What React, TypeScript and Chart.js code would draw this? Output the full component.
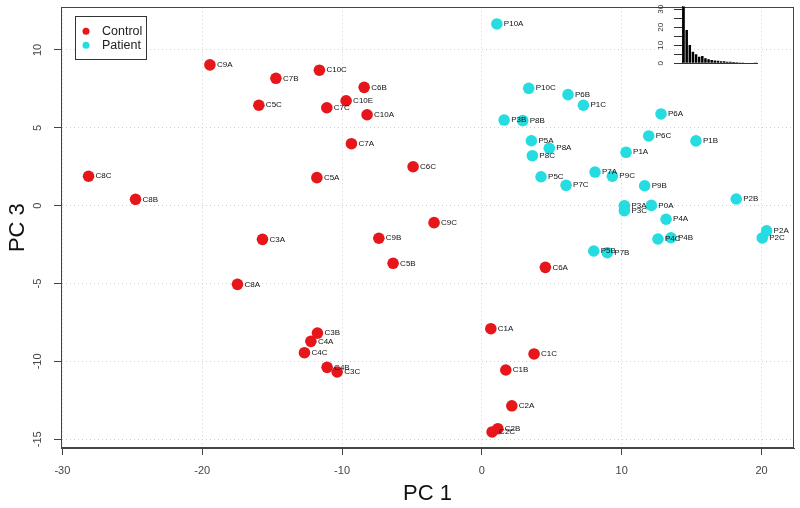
import React, { useEffect, useRef } from 'react';
import { Chart, registerables } from 'chart.js';

Chart.register(...registerables);

// ---------- data ----------
const controlNames = ['C9A', 'C7B', 'C5C', 'C8C', 'C8B', 'C10C', 'C6B', 'C10E', 'C7C', 'C10A', 'C7A', 'C6C', 'C5A', 'C9C', 'C3A', 'C8A', 'C9B', 'C5B', 'C6A', 'C3B', 'C4A', 'C4C', 'C4B', 'C3C', 'C1A', 'C1C', 'C1B', 'C2A', 'C2B', 'C2C'];
const controlPC1 = [-19.45, -14.73, -15.95, -28.13, -24.77, -11.62, -8.42, -9.71, -11.09, -8.21, -9.33, -4.92, -11.8, -3.42, -15.69, -17.48, -7.37, -6.35, 4.54, -11.76, -12.23, -12.69, -11.07, -10.35, 0.64, 3.73, 1.71, 2.14, 1.14, 0.73];
const controlPC3 = [9.04, 8.18, 6.45, 1.89, 0.41, 8.7, 7.6, 6.74, 6.29, 5.84, 3.98, 2.5, 1.8, -1.09, -2.16, -5.05, -2.09, -3.7, -3.96, -8.18, -8.71, -9.44, -10.38, -10.68, -7.9, -9.52, -10.55, -12.85, -14.32, -14.53];

const patientNames = ['P10A', 'P10C', 'P3B', 'P8B', 'P5A', 'P8C', 'P5C', 'P6B', 'P1C', 'P6A', 'P6C', 'P1B', 'P8A', 'P1A', 'P7A', 'P9C', 'P7C', 'P9B', 'P2B', 'P3A', 'P3C', 'P0A', 'P4A', 'P2A', 'P2C', 'P4C', 'P4B', 'P5B', 'P7B'];
const patientPC1 = [1.07, 3.35, 1.59, 2.92, 3.54, 3.61, 4.23, 6.16, 7.26, 12.81, 11.93, 15.31, 4.82, 10.31, 8.09, 9.33, 6.02, 11.64, 18.19, 10.19, 10.19, 12.12, 13.17, 20.36, 20.05, 12.59, 13.52, 8.0, 8.97];
const patientPC3 = [11.67, 7.54, 5.5, 5.46, 4.17, 3.21, 1.86, 7.13, 6.45, 5.89, 4.48, 4.16, 3.69, 3.43, 2.16, 1.89, 1.31, 1.28, 0.43, 0.0, -0.32, 0.02, -0.87, -1.62, -2.07, -2.14, -2.06, -2.91, -3.02];

const xTicks = [-30, -20, -10, 0, 10, 20];
const yTicks = [-15, -10, -5, 0, 5, 10];

const screeValues = [33, 18.5, 10.2, 6.4, 5.0, 3.6, 4.0, 2.8, 2.2, 1.9, 1.6, 1.4, 1.2, 1.1, 0.9, 0.8, 0.7, 0.6, 0.5, 0.4, 0.35, 0.3, 0.25, 0.2];
const screeTicks = [0, 5, 10, 15, 20, 25, 30];
const screeLabels = [0, 10, 20, 30];

const legendLabels = ['Control', 'Patient'];

// ---------- style ----------
const RED = '#e6161a';
const CYAN = '#25dce0';
const SANS = "'Liberation Sans', Arial, sans-serif";
const LABEL_FONT = "8px 'Liberation Sans', Arial, sans-serif";

const pointNames = [controlNames, patientNames];
const colors = [RED, CYAN];

const boxPlugin = {
  id: 'plotBox',
  afterDraw(chart: any) {
    const { ctx, chartArea } = chart;
    ctx.save();
    ctx.strokeStyle = '#444';
    ctx.lineWidth = 1;
    ctx.strokeRect(Math.round(chartArea.left) + 0.5, Math.round(chartArea.top) + 0.5,
      Math.round(chartArea.right - chartArea.left) - 1, Math.round(chartArea.bottom - chartArea.top) - 1);
    ctx.restore();
  },
};

const labelPlugin = {
  id: 'pointLabels',
  afterDatasetsDraw(chart: any) {
    const ctx = chart.ctx;
    ctx.save();
    ctx.font = LABEL_FONT;
    ctx.fillStyle = '#111';
    ctx.textBaseline = 'middle';
    ctx.textAlign = 'left';
    chart.data.datasets.forEach((_ds: any, i: number) => {
      const meta = chart.getDatasetMeta(i);
      meta.data.forEach((pt: any, j: number) => {
        ctx.fillText(pointNames[i][j], pt.x + 7, pt.y);
      });
    });
    ctx.restore();
  },
};

const legendPlugin = {
  id: 'boxLegend',
  afterDraw(chart: any) {
    const ctx = chart.ctx;
    const left = chart.chartArea.left + 14;
    const top = chart.chartArea.top + 9;
    const w = 71;
    const h = 43;
    ctx.save();
    ctx.fillStyle = '#fff';
    ctx.fillRect(left, top, w, h);
    ctx.strokeStyle = '#333';
    ctx.lineWidth = 1;
    ctx.strokeRect(Math.round(left) + 0.5, Math.round(top) + 0.5, w, h);
    ctx.font = `12.5px ${SANS}`;
    ctx.textBaseline = 'middle';
    ctx.textAlign = 'left';
    legendLabels.forEach((lab, i) => {
      const y = top + 15 + i * 14;
      ctx.fillStyle = colors[i];
      ctx.beginPath();
      ctx.arc(left + 11, y, 3.5, 0, Math.PI * 2);
      ctx.fill();
      ctx.fillStyle = '#222';
      ctx.fillText(lab, left + 27, y);
    });
    ctx.restore();
  },
};

const fitVertical = (w: number) => (s: any) => { s.width = w; s.paddingTop = 0; s.paddingBottom = 0; };
const fitHorizontal = (h: number) => (s: any) => { s.height = h; s.paddingLeft = 0; s.paddingRight = 0; };

export default function App() {
  const mainRef = useRef<HTMLCanvasElement>(null);
  const insetRef = useRef<HTMLCanvasElement>(null);

  useEffect(() => {
    if (!mainRef.current || !insetRef.current) return;
    const mk = (xs: number[], ys: number[]) => xs.map((x, i) => ({ x, y: ys[i] }));
    const gridOpts = { color: '#cfcfcf', lineWidth: 1, tickColor: '#444', tickLength: 7, tickBorderDash: [], tickWidth: 1 };
    const borderOpts = { display: true, color: '#444', width: 1, dash: [1, 3] };

    const main = new Chart(mainRef.current, {
      type: 'scatter',
      data: {
        datasets: [
          { label: 'Control', data: mk(controlPC1, controlPC3), backgroundColor: RED, pointRadius: 5.8, pointBorderWidth: 0, pointHoverRadius: 5.8 },
          { label: 'Patient', data: mk(patientPC1, patientPC3), backgroundColor: CYAN, pointRadius: 5.8, pointBorderWidth: 0, pointHoverRadius: 5.8 },
        ],
      },
      options: {
        responsive: false,
        animation: false,
        events: [],
        layout: { padding: { top: 7.3, right: 6, left: 0, bottom: 0 } },
        plugins: { legend: { display: false }, tooltip: { enabled: false } },
        scales: {
          x: {
            type: 'linear',
            min: -30.1,
            max: 22.32,
            afterBuildTicks: (s: any) => { s.ticks = xTicks.map((v) => ({ value: v })); },
            afterFit: fitHorizontal(60),
            grid: gridOpts,
            border: borderOpts,
            ticks: { font: { family: SANS, size: 11 }, color: '#444', padding: 9, maxRotation: 0, autoSkip: false },
            title: { display: true, text: 'PC 1', font: { family: SANS, size: 22 }, color: '#111', padding: { top: 0, bottom: 1.1 } },
          },
          y: {
            type: 'linear',
            min: -15.56,
            max: 12.74,
            afterBuildTicks: (s: any) => { s.ticks = yTicks.map((v) => ({ value: v })); },
            afterFit: fitVertical(61),
            grid: gridOpts,
            border: borderOpts,
            ticks: { font: { family: SANS, size: 11 }, color: '#444', padding: 8, minRotation: 90, maxRotation: 90, crossAlign: 'center', autoSkip: false },
            title: { display: true, text: 'PC 3', font: { family: SANS, size: 22 }, color: '#111', padding: { top: 4.8, bottom: 0 } },
          },
        },
      },
      plugins: [boxPlugin, labelPlugin, legendPlugin],
    } as any);

    const inset = new Chart(insetRef.current, {
      type: 'bar',
      data: {
        labels: screeValues.map((_, i) => String(i + 1)),
        datasets: [{ data: screeValues, backgroundColor: '#000', borderWidth: 0, barPercentage: 0.8, categoryPercentage: 1 }],
      },
      options: {
        responsive: false,
        animation: false,
        events: [],
        layout: { padding: { top: 6.6, right: 13, left: 0, bottom: 0 } },
        plugins: { legend: { display: false }, tooltip: { enabled: false } },
        scales: {
          x: {
            grid: { display: false },
            ticks: { display: false },
            border: { display: true, color: '#333', width: 1 },
            afterFit: fitHorizontal(6.7),
          },
          y: {
            min: 0,
            max: 31.5,
            afterBuildTicks: (s: any) => { s.ticks = screeTicks.map((v) => ({ value: v })); },
            afterFit: fitVertical(42),
            grid: { drawOnChartArea: false, tickLength: 8, tickColor: '#333', tickWidth: 1 },
            border: { display: true, color: '#333', width: 1 },
            ticks: {
              minRotation: 90, maxRotation: 90, crossAlign: 'center', padding: 9, autoSkip: false,
              font: { family: SANS, size: 8 }, color: '#333',
              callback: (v: any) => (screeLabels.includes(Number(v)) ? String(v) : ''),
            },
          },
        },
      },
    } as any);

    return () => { main.destroy(); inset.destroy(); };
  }, []);

  return (
    <div style={{ position: 'absolute', left: 0, top: 0, width: 800, height: 508, background: '#fff' }}>
      <canvas ref={mainRef} width={800} height={508} style={{ position: 'absolute', left: 0, top: 0, display: 'block' }} />
      <canvas ref={insetRef} width={130} height={70} style={{ position: 'absolute', left: 640, top: 0, display: 'block' }} />
    </div>
  );
}
